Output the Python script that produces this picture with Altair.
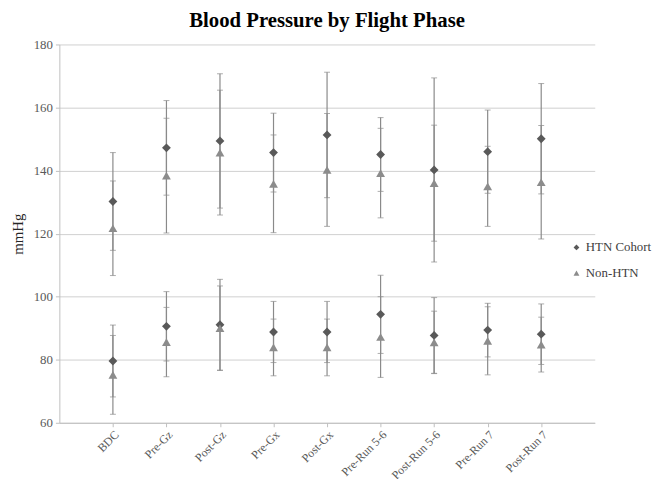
import altair as alt
import pandas as pd

categories = ["BDC", "Pre-Gz", "Post-Gz", "Pre-Gx", "Post-Gx",
              "Pre-Run 5-6", "Post-Run 5-6", "Pre-Run 7", "Post-Run 7"]
series_names = ["HTN Cohort", "Non-HTN"]

# Systolic (upper group)
htn_sbp = [130.2, 147.2, 149.4, 145.7, 151.3, 145.1, 140.2, 146.0, 150.1]
htn_sbp_sd = [15.5, 15.0, 21.3, 12.5, 19.9, 11.7, 29.2, 13.2, 17.5]
non_sbp = [121.7, 138.4, 145.7, 135.8, 140.2, 139.2, 136.0, 135.0, 136.3]
non_sbp_sd = [15.0, 18.2, 19.8, 15.5, 17.9, 14.2, 18.4, 12.7, 18.0]

# Diastolic (lower group)
htn_dbp = [79.6, 90.6, 91.1, 88.8, 88.8, 94.4, 87.7, 89.4, 88.1]
htn_dbp_sd = [11.4, 11.0, 14.4, 9.7, 9.7, 12.4, 12.0, 8.5, 9.6]
non_dbp = [75.2, 85.6, 90.0, 83.9, 83.9, 87.2, 85.5, 86.0, 84.8]
non_dbp_sd = [12.5, 11.0, 13.4, 9.0, 9.0, 12.8, 9.9, 10.8, 8.7]

y_ticks = [60, 80, 100, 120, 140, 160, 180]

rows = []
for i, c in enumerate(categories):
    for s, m, sd in [("HTN Cohort", htn_sbp, htn_sbp_sd), ("Non-HTN", non_sbp, non_sbp_sd),
                     ("HTN Cohort", htn_dbp, htn_dbp_sd), ("Non-HTN", non_dbp, non_dbp_sd)]:
        rows.append({"phase": c, "series": s, "mean": m[i],
                     "lo": m[i] - sd[i], "hi": m[i] + sd[i]})
df = pd.DataFrame(rows)

FONT = "Liberation Serif"
LEG_FONT = "serif"
x_enc = alt.X("phase:O", sort=categories,
              scale=alt.Scale(type="point", padding=1),
              axis=alt.Axis(title=None, labelAngle=-45, labelFontSize=12,
                            labelColor="#595959", labelFont=FONT,
                            domainColor="#bfbfbf", tickColor="#bfbfbf",
                            tickSize=4, grid=False, labelPadding=2))
y_scale = alt.Scale(domain=[60, 180], nice=False, zero=False)
y_axis = alt.Axis(title="mmHg", values=y_ticks, labelFontSize=13, labelColor="#595959",
                  labelFont=FONT, domainColor="#bfbfbf", tickColor="#bfbfbf",
                  tickSize=4, labelPadding=3, gridColor="#cfcfcf",
                  titleFont=FONT, titleFontSize=15, titleFontWeight="normal",
                  titleColor="#262626", titlePadding=8)

legend_props = dict(title=None, orient="none", legendX=517, legendY=199,
                    labelFont=LEG_FONT, labelFontSize=13, labelColor="#404040",
                    symbolSize=35, rowPadding=12, labelOffset=3)

base = alt.Chart(df)
rules = base.mark_rule(color="#8a8a8a", strokeWidth=1.2).encode(
    x=x_enc, y=alt.Y("lo:Q", scale=y_scale, axis=y_axis), y2="hi:Q")
cap_lo = base.mark_tick(color="#8a8a8a", size=6, thickness=1).encode(
    x=x_enc, y=alt.Y("lo:Q", scale=y_scale))
cap_hi = base.mark_tick(color="#8a8a8a", size=6, thickness=1).encode(
    x=x_enc, y=alt.Y("hi:Q", scale=y_scale))
points = base.mark_point(filled=True, opacity=1, size=80).encode(
    x=x_enc,
    y=alt.Y("mean:Q", scale=y_scale),
    shape=alt.Shape("series:N", scale=alt.Scale(domain=series_names,
                                                range=["diamond", "triangle-up"]),
                    legend=alt.Legend(**legend_props)),
    color=alt.Color("series:N", scale=alt.Scale(domain=series_names,
                                                range=["#595959", "#8c8c8c"]),
                    legend=alt.Legend(**legend_props)),
)

chart = alt.layer(rules, cap_lo, cap_hi, points).properties(
    width=542, height=383,
    title=alt.TitleParams("Blood Pressure by Flight Phase", font=FONT, fontSize=21,
                          fontWeight="bold", color="#000000", anchor="middle", offset=8),
    padding={"left": 52, "top": 34, "right": 61, "bottom": 54},
    autosize=alt.AutoSizeParams(type="none"),
).configure(font=FONT).configure_view(stroke=None).configure_legend(
    labelFont=LEG_FONT, labelFontSize=13)

chart.save("out.html", embed_options={"renderer": "svg", "actions": False})
